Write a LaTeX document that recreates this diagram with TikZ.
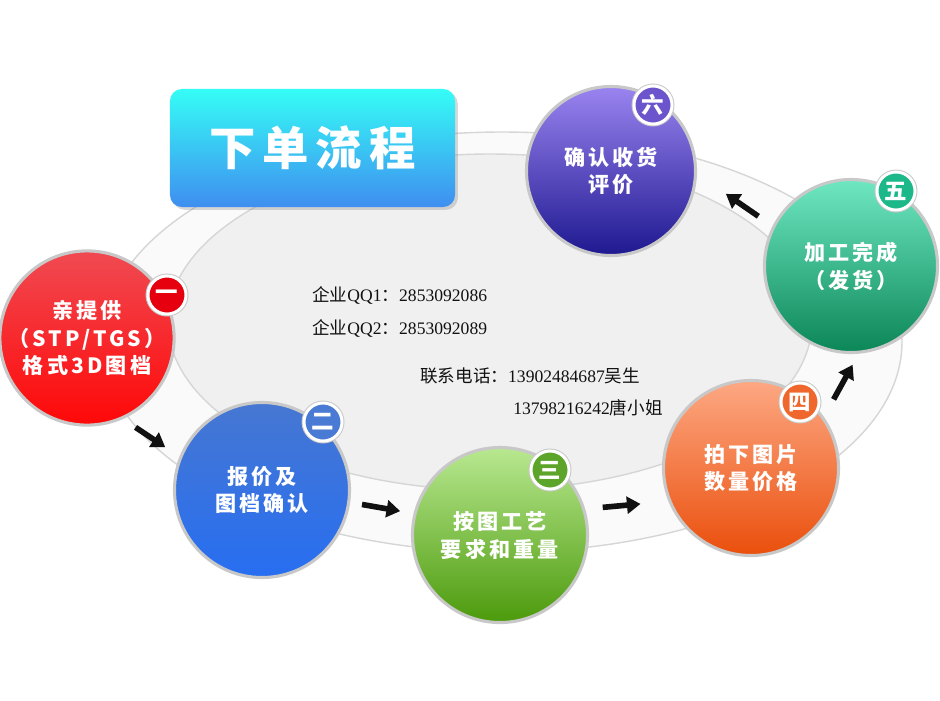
\documentclass[tikz,border=0pt]{standalone}
\usepackage{fontspec}
\setmainfont{Liberation Serif}
\newfontfamily\cjk{Noto Sans CJK SC}
\newfontfamily\cjkwide[LetterSpace=15]{Noto Sans CJK SC}
\usetikzlibrary{arrows.meta,shadows}
\definecolor{Ink}{HTML}{111111}
\definecolor{RingLine}{HTML}{D6D6D6}
\definecolor{RingBand}{HTML}{FAFAFA}
\definecolor{RingInner}{HTML}{F0F0F0}
\definecolor{StageRim}{HTML}{C8C8C8}
\definecolor{TitleTop}{HTML}{35FDF6}
\definecolor{TitleBot}{HTML}{3F8EF0}
\definecolor{RedTop}{HTML}{F04A52}
\definecolor{RedBot}{HTML}{FF0808}
\definecolor{RedBadge}{HTML}{E6000F}
\definecolor{BlueTop}{HTML}{4677D2}
\definecolor{BlueBot}{HTML}{276EF1}
\definecolor{BlueBadge}{HTML}{4A7BD4}
\definecolor{GreenTop}{HTML}{B8E890}
\definecolor{GreenBot}{HTML}{4C9A0C}
\definecolor{GreenBadge}{HTML}{5DA42A}
\definecolor{OrangeTop}{HTML}{FDA883}
\definecolor{OrangeBot}{HTML}{EA4F0C}
\definecolor{OrangeBadge}{HTML}{F0672E}
\definecolor{TealTop}{HTML}{6FE8C2}
\definecolor{TealBot}{HTML}{0B8657}
\definecolor{TealBadge}{HTML}{1DB889}
\definecolor{PurpleTop}{HTML}{9A84F0}
\definecolor{PurpleBot}{HTML}{1E1890}
\definecolor{PurpleBadge}{HTML}{6C54CC}

\begin{document}
\begin{tikzpicture}[x=0.025cm,y=-0.025cm,
  ring/.style={draw=RingLine,line width=1pt},
  titlebox/.style={rounded corners=0.3cm,minimum width=7.125cm,minimum height=2.95cm,top color=TitleTop,bottom color=TitleBot,text=white,font=\cjkwide\bfseries\fontsize{33}{33}\selectfont,drop shadow={opacity=0.3,shadow xshift=2pt,shadow yshift=-2pt}},
  stage/.style={circle,draw=StageRim,line width=2.2pt,minimum size=4.375cm,inner sep=0pt,align=center,text=white,font=\cjkwide\bfseries\fontsize{15}{19.8}\selectfont},
  badge/.style={circle,fill=#1,draw=white,line width=2.1pt,minimum size=0.95cm,inner sep=0pt,text=white,font=\cjk\bfseries\fontsize{16}{16}\selectfont,preaction={draw=StageRim,line width=3.5pt}},
  contact/.style={anchor=west,inner sep=0pt,text=Ink,font=\fontsize{12.5}{15}\selectfont},
  flow/.style={-{Triangle[length=0.34cm,width=0.42cm]},line width=4pt,Ink}
]
\useasboundingbox (0,0) rectangle (940,700);
\fill[white] (0,0) rectangle (940,700);
\draw[ring,fill=RingBand] (502,342) ellipse [x radius=400,y radius=210];
\draw[ring,fill=RingInner] (490,322) ellipse [x radius=322,y radius=168];

\node[titlebox] (title) at (312.5,148) {下单流程};

\node[contact] (qq1) at (312,295) {{\cjk 企业}QQ1{\cjk ：}2853092086};
\node[contact] (qq2) at (312,328) {{\cjk 企业}QQ2{\cjk ：}2853092089};
\node[contact] (tel1) at (420,376) {{\cjk 联系电话：}13902484687{\cjk 吴生}};
\node[contact] (tel2) at (513,408) {13798216242{\cjk 唐小姐}};

\node[stage,minimum size=4.175cm,top color=RedTop,bottom color=RedBot] (c1) at (87,338) {亲提供\\（STP/TGS）\\格式3D图档};
\node[stage,top color=BlueTop,bottom color=BlueBot] (c2) at (262,490) {报价及\\图档确认};
\node[stage,top color=GreenTop,bottom color=GreenBot] (c3) at (500,535) {按图工艺\\要求和重量};
\node[stage,top color=OrangeTop,bottom color=OrangeBot] (c4) at (751,468) {拍下图片\\数量价格};
\node[stage,minimum size=4.325cm,top color=TealTop,bottom color=TealBot] (c5) at (851,266) {加工完成\\（发货）};
\node[stage,minimum size=4.225cm,top color=PurpleTop,bottom color=PurpleBot] (c6) at (611,171) {确认收货\\评价};

\node[badge=RedBadge] (b1) at (167,295) {一};
\node[badge=BlueBadge] (b2) at (323,422) {二};
\node[badge=GreenBadge] (b3) at (550,470) {三};
\node[badge=OrangeBadge] (b4) at (800,402) {四};
\node[badge=TealBadge] (b5) at (896,191) {五};
\node[badge=PurpleBadge] (b6) at (653,105) {六};

\draw[flow,shorten <=0.375cm,shorten >=0.425cm] (c1.-66.6) -- (c2.158.9);
\draw[flow,shorten <=0.3cm,shorten >=0.34cm] (c2.-8.3) -- (c3.166.7);
\draw[flow,shorten <=0.44cm,shorten >=0.7cm] (c3.17.2) -- (c4.-158.9);
\draw[flow,shorten <=0.5cm,shorten >=0.315cm] (c4.35.7) -- (c5.-85.6);
\draw[flow,shorten <=0.43cm,shorten >=0.875cm] (c5.153.3) -- (c6.-2.8);
\end{tikzpicture}
\end{document}
